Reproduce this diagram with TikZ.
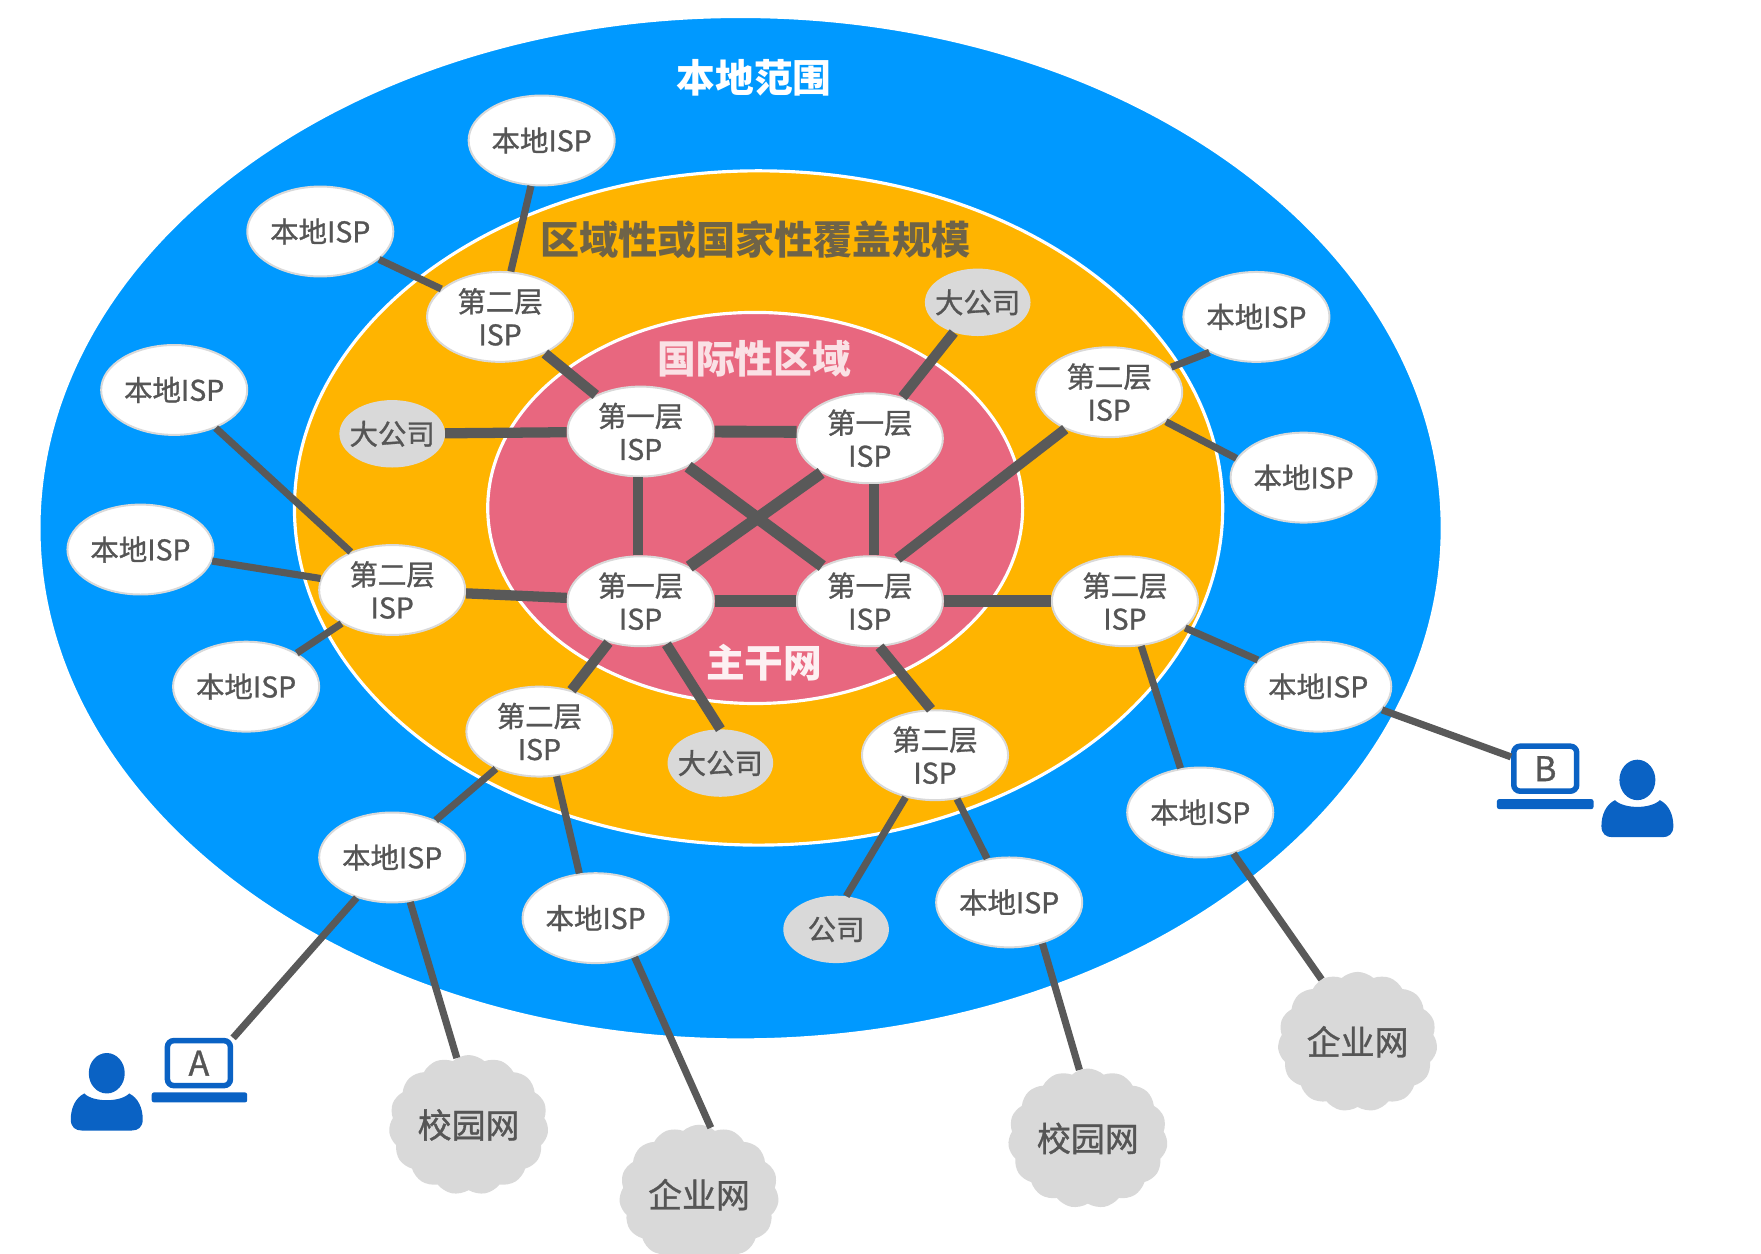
\documentclass[tikz,border=0pt]{standalone}
\usepackage{fontspec}
\setmainfont{Noto Sans CJK SC}
\newfontfamily\nodefont[FakeBold=1]{Noto Sans CJK SC}
\usetikzlibrary{shapes.geometric,shapes.symbols}
\definecolor{outerblue}{HTML}{0099FF}
\definecolor{midorange}{HTML}{FFB400}
\definecolor{innerpink}{HTML}{E8677F}
\definecolor{linkgray}{HTML}{595959}
\definecolor{textgray}{HTML}{555555}
\definecolor{softgray}{HTML}{D9D9D9}
\definecolor{userblue}{HTML}{0A62C4}
\tikzset{
	ispnode/.style={ellipse, draw=softgray, line width=2.5pt, fill=white, inner sep=0pt, minimum width=6.5cm, minimum height=4cm, text=textgray, align=center, font=\fontsize{36}{42}\nodefont},
	corpnode/.style={ellipse, fill=softgray, inner xsep=-.9cm, inner ysep=-.3cm, minimum width=4.7cm, minimum height=3cm, text=textgray, font=\fontsize{36}{42}\nodefont},
	cloudnode/.style={cloud, cloud puffs=15, cloud puff arc=85, aspect=1.1, fill=softgray, inner sep=0pt, minimum width=7.1cm, minimum height=6.2cm, text=textgray, font=\fontsize{43}{50}\nodefont},
	laptopnode/.style={rectangle, draw=userblue, line width=7pt, rounded corners=8pt, fill=white, inner sep=0pt, minimum width=2.8cm, minimum height=2cm, text=textgray, font=\fontsize{43}{50}\nodefont},
	thinlink/.style={draw=linkgray, line width=9pt},
	midlink/.style={draw=linkgray, line width=13pt},
	thicklink/.style={draw=linkgray, line width=15pt}
}
\begin{document}
\begin{tikzpicture}[x=.05cm, y=-.05cm]
	\useasboundingbox (0, 0) rectangle (1567, 1115);
	\fill[white] (0, 0) rectangle (1567, 1115);
	% rings
	\draw[draw=white, line width=3pt, fill=outerblue] (659, 470) ellipse [x radius=624, y radius=455];
	\draw[draw=white, line width=4pt, fill=midorange] (675, 452) ellipse [x radius=413, y radius=300];
	\draw[draw=white, line width=4pt, fill=innerpink] (672, 452) ellipse [x radius=238, y radius=174];
	\node[text=white, font=\fontsize{49}{55}\selectfont\bfseries] (scopeLocal) at (671, 69) {本地范围};
	\node[text=textgray!85!midorange, font=\fontsize{49.5}{55}\selectfont\bfseries] (scopeRegion) at (672, 213) {区域性或国家性覆盖规模};
	\node[text=white!80!innerpink, font=\fontsize{49}{55}\selectfont\bfseries] (scopeWorld) at (671, 319) {国际性区域};
	\node[text=white!90!innerpink, font=\fontsize{49}{55}\selectfont\bfseries] (backbone) at (680, 590) {主干网};
	% first tier
	\begin{scope}[every node/.style=ispnode]
		\node (t1a) at (570, 384) {第一层\\ISP};
		\node (t1b) at (774, 390) {第一层\\ISP};
		\node (t1c) at (570, 535) {第一层\\ISP};
		\node (t1d) at (774, 535) {第一层\\ISP};
	\end{scope}
	% second tier
	\begin{scope}[every node/.style=ispnode]
		\node (t2a) at (445, 282) {第二层\\ISP};
		\node (t2b) at (349, 525) {第二层\\ISP};
		\node (t2c) at (480, 651) {第二层\\ISP};
		\node (t2d) at (832, 672) {第二层\\ISP};
		\node (t2e) at (1001, 535) {第二层\\ISP};
		\node (t2f) at (987, 349) {第二层\\ISP};
	\end{scope}
	% local
	\begin{scope}[every node/.style=ispnode]
		\node (loc1) at (482, 125) {本地ISP};
		\node (loc2) at (285, 206) {本地ISP};
		\node (loc3) at (155, 347) {本地ISP};
		\node (loc4) at (125, 489) {本地ISP};
		\node (loc5) at (219, 611) {本地ISP};
		\node (loc6) at (349, 763) {本地ISP};
		\node (loc7) at (530, 817) {本地ISP};
		\node (loc8) at (898, 803) {本地ISP};
		\node (loc9) at (1068, 723) {本地ISP};
		\node (loc10) at (1173, 611) {本地ISP};
		\node (loc11) at (1160, 425) {本地ISP};
		\node (loc12) at (1118, 282) {本地ISP};
	\end{scope}
	\begin{scope}[every node/.style=corpnode]
		\node (corp1) at (349, 386) {大公司};
		\node (corp2) at (870, 269) {大公司};
		\node (corp3) at (641, 679) {大公司};
		\node (corp4) at (744, 827) {公司};
	\end{scope}
	\begin{scope}[every node/.style=cloudnode]
		\node (net1) at (417, 1001) {校园网};
		\node (net2) at (622, 1063) {企业网};
		\node (net3) at (968, 1013) {校园网};
		\node (net4) at (1208, 927) {企业网};
	\end{scope}
	% users
	\node[laptopnode] (lapA) at (177, 946) {A};
	\fill[userblue, rounded corners=3pt] (135, 972) rectangle (220, 981);
	\fill[userblue] (95, 955) ellipse [x radius=16, y radius=18];
	\begin{scope}[shift={(95, 973)}]
		\fill[userblue] (-20, 0) .. controls (-12, 8) and (12, 8) .. (20, 0) .. controls (28, 4) and (32, 13) .. (32, 23) .. controls (32, 30) and (28, 33) .. (22, 33) -- (-22, 33) .. controls (-28, 33) and (-32, 30) .. (-32, 23) .. controls (-32, 13) and (-28, 4) .. (-20, 0) -- cycle;
	\end{scope}
	\node[laptopnode] (lapB) at (1375, 684) {B};
	\fill[userblue, rounded corners=3pt] (1332, 711) rectangle (1418, 720);
	\fill[userblue] (1457, 694) ellipse [x radius=16, y radius=18];
	\begin{scope}[shift={(1457, 712)}]
		\fill[userblue] (-20, 0) .. controls (-12, 8) and (12, 8) .. (20, 0) .. controls (28, 4) and (32, 13) .. (32, 23) .. controls (32, 30) and (28, 33) .. (22, 33) -- (-22, 33) .. controls (-28, 33) and (-32, 30) .. (-32, 23) .. controls (-32, 13) and (-28, 4) .. (-20, 0) -- cycle;
	\end{scope}
	% links
	\path[thicklink] (t1a.east) edge (t1b.175);
	\path[thicklink] (t1a) edge (t1d);
	\path[thicklink] (t1c) edge (t1d) edge (t1b);
	\path[midlink] (t1a) edge (corp1) edge (t2a);
	\path[midlink] (t1a.-93) edge (t1c.93);
	\path[midlink] (t1b) edge (corp2);
	\path[midlink] (t1b.-85) edge (t1d.85);
	\path[midlink] (t1c) edge (t2b) edge (t2c);
	\path[midlink] (t1c.-59) edge (corp3.north);
	\path[midlink] (t1d.-78) edge (t2d.95);
	\path[midlink] (t1d.57) edge (t2f.220);
	\path[thicklink] (t1d) -- (t2e);
	\path[thinlink] (t2a) edge (loc1) edge (loc2);
	\path[thinlink] (t2b) edge (loc3) edge (loc4) edge (loc5);
	\path[thinlink] (t2c) edge (loc6);
	\path[thinlink] (t2c.-69) edge (loc7.110);
	\path[thinlink] (t2d) edge (loc8);
	\path[thinlink] (t2d.-125) edge (corp4.73);
	\path[thinlink] (t2e) edge (loc10);
	\path[thinlink] (t2e.-70) edge (loc9.114);
	\path[thinlink] (t2f.22) edge (loc12.217);
	\path[thinlink] (t2f) edge (loc11.164);
	\path[thinlink] (loc6) edge (lapA.north east);
	\path[thinlink] (loc6.-68) edge (net1.100);
	\path[thinlink] (loc7.-45) edge (net2.80);
	\path[thinlink] (loc8.-51) edge (net3.97);
	\path[thinlink] (loc9.-51) edge (net4.120);
	\path[thinlink] (loc10.-20) edge (lapB.161);
\end{tikzpicture}
\end{document}
